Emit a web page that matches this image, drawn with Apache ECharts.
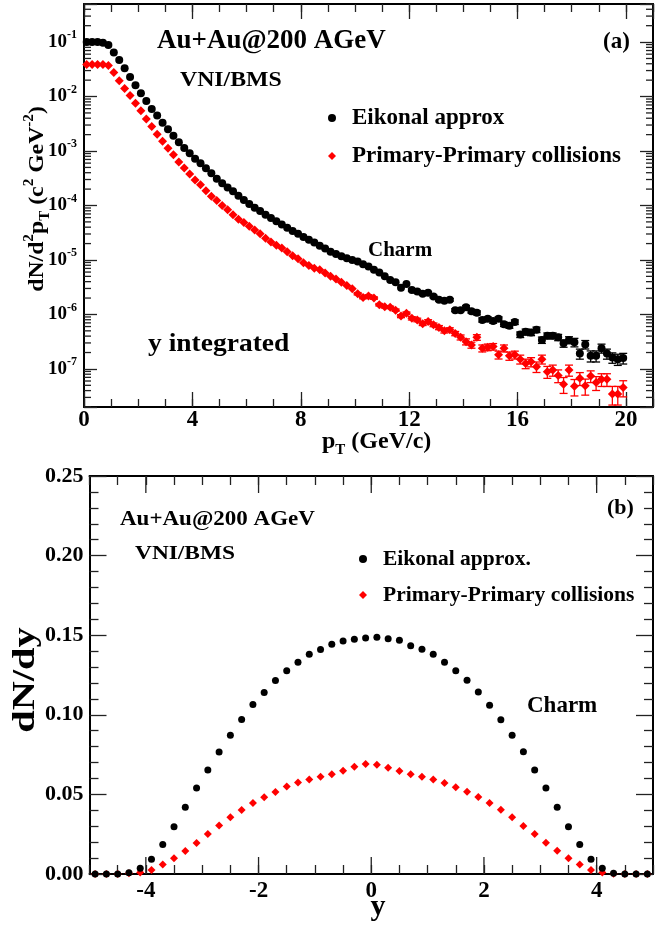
<!DOCTYPE html>
<html><head><meta charset="utf-8">
<script src="https://cdn.jsdelivr.net/npm/echarts@6/dist/echarts.min.js"></script>
<style>html,body{margin:0;padding:0;background:#fff}#c{width:656px;height:926px}</style>
</head><body><div id="c"></div>
<script>
// ---------- Panel (a): pT spectra ----------
const ptValues = [0.1,0.3,0.5,0.7,0.9,1.1,1.3,1.5,1.7,1.9,2.1,2.3,2.5,2.7,2.9,3.1,3.3,3.5,3.7,3.9,
4.1,4.3,4.5,4.7,4.9,5.1,5.3,5.5,5.7,5.9,6.1,6.3,6.5,6.7,6.9,7.1,7.3,7.5,7.7,7.9,
8.1,8.3,8.5,8.7,8.9,9.1,9.3,9.5,9.7,9.9,10.1,10.3,10.5,10.7,10.9,11.1,11.3,11.5,11.7,11.9,
12.1,12.3,12.5,12.7,12.9,13.1,13.3,13.5,13.7,13.9,14.1,14.3,14.5,14.7,14.9,15.1,15.3,15.5,15.7,15.9,
16.1,16.3,16.5,16.7,16.9,17.1,17.3,17.5,17.7,17.9,18.1,18.3,18.5,18.7,18.9,19.1,19.3,19.5,19.7,19.9];
const eikonalPt = [1.00e-1,1.00e-1,1.00e-1,9.77e-2,8.81e-2,6.46e-2,4.68e-2,3.31e-2,2.29e-2,1.62e-2,
1.15e-2,8.32e-3,5.89e-3,4.47e-3,3.31e-3,2.51e-3,1.91e-3,1.45e-3,1.14e-3,9.12e-4,
7.24e-4,5.96e-4,4.82e-4,3.89e-4,3.09e-4,2.57e-4,2.14e-4,1.82e-4,1.51e-4,1.26e-4,
1.07e-4,9.12e-5,7.94e-5,6.76e-5,5.89e-5,5.13e-5,4.47e-5,3.89e-5,3.39e-5,3.02e-5,
2.63e-5,2.34e-5,2.09e-5,1.82e-5,1.62e-5,1.41e-5,1.29e-5,1.17e-5,1.07e-5,1.00e-5,
9.33e-6,8.32e-6,7.59e-6,6.61e-6,5.89e-6,5.01e-6,4.27e-6,3.89e-6,3.09e-6,3.63e-6,
2.82e-6,2.63e-6,2.40e-6,2.51e-6,2.14e-6,1.86e-6,1.78e-6,1.86e-6,1.20e-6,1.20e-6,
1.35e-6,1.15e-6,1.07e-6,7.94e-7,8.32e-7,7.59e-7,8.32e-7,6.61e-7,6.17e-7,7.24e-7,
4.27e-7,4.79e-7,4.68e-7,5.25e-7,3.39e-7,4.07e-7,4.07e-7,3.80e-7,2.95e-7,3.39e-7,
3.09e-7,1.91e-7,2.82e-7,1.74e-7,1.74e-7,2.40e-7,1.91e-7,1.62e-7,1.51e-7,1.58e-7];
const eikonalPtErr = [0,0,0,0,0,0,0,0,0,0, 0,0,0,0,0,0,0,0,0,0, 0,0,0,0,0,0,0,0,0,0,
0,0,0,0,0,0,0,0,0,0, 0,0,0,0,0,0,0,0,0,0, 0,0,0,0,0,0,0,0,0,0,
1.4e-7,1.3e-7,1.2e-7,1.3e-7,1.1e-7,1.0e-7,0.9e-7,1.0e-7,0.7e-7,0.7e-7,
1.1e-7,0.9e-7,0.9e-7,0.7e-7,0.7e-7,0.7e-7,0.7e-7,0.6e-7,0.6e-7,0.7e-7,
5e-8,6e-8,6e-8,6e-8,4.5e-8,5e-8,5e-8,5e-8,4.5e-8,5e-8,
5.5e-8,4e-8,5e-8,4e-8,4e-8,4.5e-8,4e-8,3.5e-8,3.5e-8,3.5e-8];
const primaryPt = [3.89e-2,3.89e-2,3.89e-2,3.89e-2,3.72e-2,2.75e-2,1.95e-2,1.41e-2,1.04e-2,7.50e-3,
5.50e-3,3.89e-3,2.82e-3,2.04e-3,1.51e-3,1.12e-3,8.51e-4,6.31e-4,4.90e-4,3.80e-4,
2.95e-4,2.40e-4,1.86e-4,1.48e-4,1.23e-4,1.00e-4,8.32e-5,6.76e-5,5.62e-5,4.90e-5,
4.17e-5,3.55e-5,3.02e-5,2.51e-5,2.14e-5,1.86e-5,1.66e-5,1.41e-5,1.20e-5,1.05e-5,
8.91e-6,7.94e-6,7.08e-6,6.61e-6,5.75e-6,5.01e-6,4.47e-6,3.89e-6,3.39e-6,2.95e-6,
2.40e-6,2.04e-6,2.19e-6,2.00e-6,1.51e-6,1.38e-6,1.35e-6,1.20e-6,9.33e-7,1.05e-6,
8.51e-7,7.94e-7,6.76e-7,7.41e-7,6.46e-7,5.75e-7,5.01e-7,5.25e-7,4.47e-7,3.80e-7,
3.16e-7,2.75e-7,3.80e-7,2.40e-7,2.51e-7,2.57e-7,1.82e-7,2.40e-7,1.74e-7,1.82e-7,
1.51e-7,1.26e-7,1.35e-7,1.10e-7,1.51e-7,8.91e-8,9.55e-8,7.59e-8,5.25e-8,9.55e-8,
4.79e-8,6.76e-8,4.90e-8,7.41e-8,5.62e-8,6.46e-8,6.46e-8,3.47e-8,3.47e-8,4.57e-8];
const primaryPtErr = [0,0,0,0,0,0,0,0,0,0, 0,0,0,0,0,0,0,0,0,0, 0,0,0,0,0,0,0,0,0,0,
0,0,0,0,0,0,0,0,0,0, 0,0,0,0,0,0,0,0,0,0,
1.2e-7,1.0e-7,1.1e-7,1.0e-7,0.8e-7,0.7e-7,0.7e-7,0.6e-7,0.6e-7,0.6e-7,
6e-8,6e-8,5e-8,6e-8,5e-8,5e-8,4.5e-8,4.5e-8,4e-8,4e-8,
4e-8,3.5e-8,4.5e-8,3.5e-8,3.5e-8,3.5e-8,3e-8,3.5e-8,3e-8,3e-8,
2.8e-8,2.5e-8,2.6e-8,2.4e-8,2.8e-8,2.2e-8,2.2e-8,2e-8,1.7e-8,2.2e-8,
1.6e-8,1.8e-8,1.6e-8,1.8e-8,1.6e-8,1.7e-8,1.7e-8,1.3e-8,1.3e-8,1.5e-8];
const logDecades = [1e-8,1e-7,1e-6,1e-5,1e-4,1e-3,1e-2,1e-1];

// ---------- Panel (b): rapidity distributions ----------
const yValues = [-4.9,-4.7,-4.5,-4.3,-4.1,-3.9,-3.7,-3.5,-3.3,-3.1,-2.9,-2.7,-2.5,-2.3,-2.1,-1.9,-1.7,-1.5,-1.3,-1.1,
-0.9,-0.7,-0.5,-0.3,-0.1,0.1,0.3,0.5,0.7,0.9,1.1,1.3,1.5,1.7,1.9,2.1,2.3,2.5,2.7,2.9,
3.1,3.3,3.5,3.7,3.9,4.1,4.3,4.5,4.7,4.9];
const eikonalY = [0,0,0,0.0008,0.0036,0.0093,0.0185,0.0297,0.0419,0.0540,
0.0654,0.0767,0.0872,0.0970,0.1065,0.1140,0.1215,0.1276,0.1330,0.1380,
0.1410,0.1443,0.1464,0.1474,0.1482,0.1487,0.1477,0.1468,0.1434,0.1411,
0.1380,0.1330,0.1277,0.1217,0.1143,0.1060,0.0969,0.0871,0.0768,0.0653,
0.0540,0.0419,0.0297,0.0186,0.0092,0.0036,0.0004,0,0,0];
const primaryY = [0,0,0,0.0004,0.0010,0.0025,0.0059,0.0099,0.0144,0.0195,
0.0251,0.0304,0.0356,0.0402,0.0446,0.0482,0.0515,0.0549,0.0574,0.0593,
0.0611,0.0626,0.0649,0.0674,0.0691,0.0687,0.0668,0.0647,0.0626,0.0611,
0.0593,0.0572,0.0545,0.0517,0.0484,0.0446,0.0404,0.0356,0.0302,0.0251,
0.0197,0.0146,0.0099,0.0059,0.0025,0.0010,0.0002,0,0,0];
const yMajorTicks = [-4,-2,0,2,4];

const FONT = 'Liberation Serif';
const chart = echarts.init(document.getElementById('c'), null, {renderer:'canvas'});

const tickStyle = {color:'#222', width:1.3};
const axisLineStyle = {color:'#000', width:2};
function lbl(extra){ return Object.assign({fontFamily:FONT, fontWeight:'bold', color:'#000'}, extra); }
function aLine(show){ return show ? {show:true, onZero:false, lineStyle:axisLineStyle} : {show:false, onZero:false}; }

const PTMIN=0, PTMAX=21, LOGMIN=2e-8, LOGMAX=0.5;
const YMIN=-5, YMAX=5, DMIN=0, DMAX=0.25;

function errSeries(vals, errs, color){
  return {
    type:'custom', xAxisIndex:0, yAxisIndex:0, silent:true, z:2,
    data: ptValues.map((x,i)=>[x, vals[i], errs[i]]).filter(d=>d[2]>0),
    renderItem(params, api){
      const x=api.value(0), y=api.value(1), e=api.value(2);
      const hi=api.coord([x, y+e]), lo=api.coord([x, y-e]);
      const st={stroke:color, lineWidth:1.3};
      return {type:'group', children:[
        {type:'line', shape:{x1:hi[0],y1:hi[1],x2:lo[0],y2:lo[1]}, style:st},
        {type:'line', shape:{x1:hi[0]-4,y1:hi[1],x2:hi[0]+4,y2:hi[1]}, style:st},
        {type:'line', shape:{x1:lo[0]-4,y1:lo[1],x2:lo[0]+4,y2:lo[1]}, style:st}
      ]};
    }
  };
}

function txt(x, y, text, size, opt){
  opt = opt || {};
  return {type:'text', x:x, y:y, rotation:opt.rot||0, scaleX:opt.sx||1, z:50,
    style:{text:text, fontFamily:FONT, fontWeight:'bold', fontSize:size, fill:'#000',
      align:opt.align||'left', verticalAlign:'middle', rich:opt.rich}};
}

const option = {
  animation:false,
  backgroundColor:'#fff',
  grid:[
    {left:84, top:4, width:574, height:403},
    {left:89.5, top:476, width:570, height:398}
  ],
  xAxis:[
    {gridIndex:0, type:'value', position:'bottom', min:PTMIN, max:PTMAX, interval:4,
     axisLine:aLine(true), axisTick:{inside:true, length:15, lineStyle:tickStyle},
     splitLine:{show:false},
     axisLabel:lbl({fontSize:23, margin:2, formatter:v=> (v%4===0? String(v):'')})},
    {gridIndex:0, type:'value', position:'bottom', min:PTMIN, max:PTMAX, interval:1,
     axisLine:aLine(false), axisTick:{inside:true, length:8, lineStyle:tickStyle},
     splitLine:{show:false}, axisLabel:{show:false}},
    {gridIndex:0, type:'value', position:'top', min:PTMIN, max:PTMAX, interval:4,
     axisLine:aLine(true), axisTick:{inside:true, length:15, lineStyle:tickStyle},
     splitLine:{show:false}, axisLabel:{show:false}},
    {gridIndex:0, type:'value', position:'top', min:PTMIN, max:PTMAX, interval:1,
     axisLine:aLine(false), axisTick:{inside:true, length:8, lineStyle:tickStyle},
     splitLine:{show:false}, axisLabel:{show:false}},
    {gridIndex:1, type:'value', position:'bottom', min:YMIN, max:YMAX, interval:1,
     axisLine:aLine(true), axisTick:{show:false},
     splitLine:{show:false},
     axisLabel:lbl({fontSize:23, margin:6, formatter:v=>{const r=Math.round(v); return (Math.abs(v-r)<1e-9 && r%2===0)? String(r):'';}})},
    {gridIndex:1, type:'value', position:'bottom', min:YMIN, max:YMAX, interval:0.5,
     axisLine:aLine(false), axisTick:{inside:true, length:9, lineStyle:tickStyle},
     splitLine:{show:false}, axisLabel:{show:false}},
    {gridIndex:1, type:'value', position:'top', min:YMIN, max:YMAX, interval:0.5,
     axisLine:aLine(true), axisTick:{inside:true, length:9, lineStyle:tickStyle},
     splitLine:{show:false}, axisLabel:{show:false}}
  ],
  yAxis:[
    {gridIndex:0, type:'log', logBase:10, position:'left', min:LOGMIN, max:LOGMAX,
     axisLine:aLine(true), axisTick:{inside:true, length:13, lineStyle:tickStyle},
     splitLine:{show:false},
     axisLabel:{margin:7, formatter:v=>{const e=Math.log10(v), r=Math.round(e); if(Math.abs(e-r)>1e-6) return ''; return '{b|10}{s|'+r+'}';},
       rich:{b:lbl({fontSize:19, lineHeight:26, verticalAlign:'middle'}), s:lbl({fontSize:12, lineHeight:14, verticalAlign:'top'})}}},
    {gridIndex:0, type:'log', logBase:10, position:'right', min:LOGMIN, max:LOGMAX,
     axisLine:aLine(true), axisTick:{inside:true, length:13, lineStyle:tickStyle},
     splitLine:{show:false}, axisLabel:{show:false}},
    {gridIndex:1, type:'value', position:'left', min:DMIN, max:DMAX, interval:0.05,
     axisLine:aLine(true), axisTick:{inside:true, length:17, lineStyle:tickStyle},
     minorTick:{show:true, splitNumber:5, length:9, lineStyle:tickStyle},
     splitLine:{show:false}, minorSplitLine:{show:false},
     axisLabel:lbl({fontSize:22, margin:6, formatter:v=>v.toFixed(2)})},
    {gridIndex:1, type:'value', position:'right', min:DMIN, max:DMAX, interval:0.05,
     axisLine:aLine(true), axisTick:{inside:true, length:17, lineStyle:tickStyle},
     minorTick:{show:true, splitNumber:5, length:9, lineStyle:tickStyle},
     splitLine:{show:false}, minorSplitLine:{show:false}, axisLabel:{show:false}}
  ],
  legend:[
    {data:['Eikonal approx','Primary-Primary collisions'], orient:'vertical', left:328, top:105, padding:0,
     itemWidth:8, itemHeight:8, itemGap:12, selectedMode:false,
     textStyle:lbl({fontSize:23, lineHeight:26, padding:[0,0,0,11]})},
    {data:['Eikonal approx.','Primary-Primary collisions'], orient:'vertical', left:359, top:547, padding:0,
     itemWidth:8, itemHeight:8, itemGap:12, selectedMode:false,
     textStyle:lbl({fontSize:21.5, lineHeight:24, padding:[0,0,0,11]})}
  ],
  series:[
    // log minor ticks (2..9 x decade) on left and right of panel (a)
    {type:'custom', xAxisIndex:0, yAxisIndex:0, silent:true, z:1,
     data: logDecades.map(d=>[PTMIN, d]),
     renderItem(params, api){
       const base=api.value(1), ch=[];
       for(let m=2;m<=9;m++){
         const v=m*base; if(v<LOGMIN||v>LOGMAX) continue;
         const pl=api.coord([PTMIN, v]), pr=api.coord([PTMAX, v]);
         ch.push({type:'line', shape:{x1:pl[0],y1:pl[1],x2:pl[0]+7,y2:pl[1]}, style:{stroke:'#222', lineWidth:1.3}});
         ch.push({type:'line', shape:{x1:pr[0],y1:pr[1],x2:pr[0]-7,y2:pr[1]}, style:{stroke:'#222', lineWidth:1.3}});
       }
       return {type:'group', children:ch};
     }},
    // major x ticks panel (b)
    {type:'custom', xAxisIndex:4, yAxisIndex:2, silent:true, z:1,
     data: yMajorTicks.map(v=>[v, DMIN]),
     renderItem(params, api){
       const v=api.value(0);
       const pb=api.coord([v, DMIN]), pt=api.coord([v, DMAX]);
       return {type:'group', children:[
         {type:'line', shape:{x1:pb[0],y1:pb[1],x2:pb[0],y2:pb[1]-17}, style:{stroke:'#222', lineWidth:1.3}},
         {type:'line', shape:{x1:pt[0],y1:pt[1],x2:pt[0],y2:pt[1]+17}, style:{stroke:'#222', lineWidth:1.3}}
       ]};
     }},
    errSeries(eikonalPt, eikonalPtErr, '#000'),
    errSeries(primaryPt, primaryPtErr, '#ff0000'),
    {name:'Eikonal approx', type:'scatter', xAxisIndex:0, yAxisIndex:0, clip:false, z:5,
     symbol:'circle', symbolSize:8, itemStyle:{color:'#000', opacity:1},
     data: ptValues.map((x,i)=>[x, eikonalPt[i]])},
    {name:'Primary-Primary collisions', type:'scatter', xAxisIndex:0, yAxisIndex:0, clip:false, z:4,
     symbol:'diamond', symbolSize:9, itemStyle:{color:'#ff0000', opacity:1},
     data: ptValues.map((x,i)=>[x, primaryPt[i]])},
    {name:'Eikonal approx.', type:'scatter', xAxisIndex:4, yAxisIndex:2, clip:false, z:5,
     symbol:'circle', symbolSize:7, itemStyle:{color:'#000', opacity:1},
     data: yValues.map((x,i)=>[x, eikonalY[i]])},
    {name:'Primary-Primary collisions', type:'scatter', xAxisIndex:4, yAxisIndex:2, clip:false, z:4,
     symbol:'diamond', symbolSize:8, itemStyle:{color:'#ff0000', opacity:1},
     data: yValues.map((x,i)=>[x, primaryY[i]])}
  ],
  graphic:[
    txt(157, 41, 'Au+Au@200 AGeV', 27),
    txt(603, 42, '(a)', 23),
    txt(180, 80, 'VNI/BMS', 22, {sx:1.08}),
    txt(368, 251, 'Charm', 21),
    txt(148, 345, 'y integrated', 25, {sx:1.1}),
    txt(37, 199, '{n|dN/d}{sup|2}{n|p}{sub|T}{n| (c}{sup|2}{n| GeV}{sup|-2}{n|)}', 22, {rot:Math.PI/2, align:'center', sx:1.08,
      rich:{n:lbl({fontSize:22, lineHeight:30, verticalAlign:'middle'}), sup:lbl({fontSize:14, lineHeight:13, verticalAlign:'top'}), sub:lbl({fontSize:14, lineHeight:13, verticalAlign:'bottom'})}}),
    txt(322, 442, '{n|p}{sub|T}{n| (GeV/c)}', 24, {
      rich:{n:lbl({fontSize:24, lineHeight:32, verticalAlign:'middle'}), sub:lbl({fontSize:15, lineHeight:15, verticalAlign:'bottom'})}}),
    txt(120, 520, 'Au+Au@200 AGeV', 20, {sx:1.15}),
    txt(135, 554, 'VNI/BMS', 19, {sx:1.23}),
    txt(607, 508, '(b)', 22),
    txt(527, 706, 'Charm', 23),
    txt(26, 680, 'dN/dy', 31, {rot:Math.PI/2, align:'center', sx:1.3}),
    txt(378, 907, 'y', 30, {align:'center'})
  ]
};
chart.setOption(option);
</script>
</body></html>
